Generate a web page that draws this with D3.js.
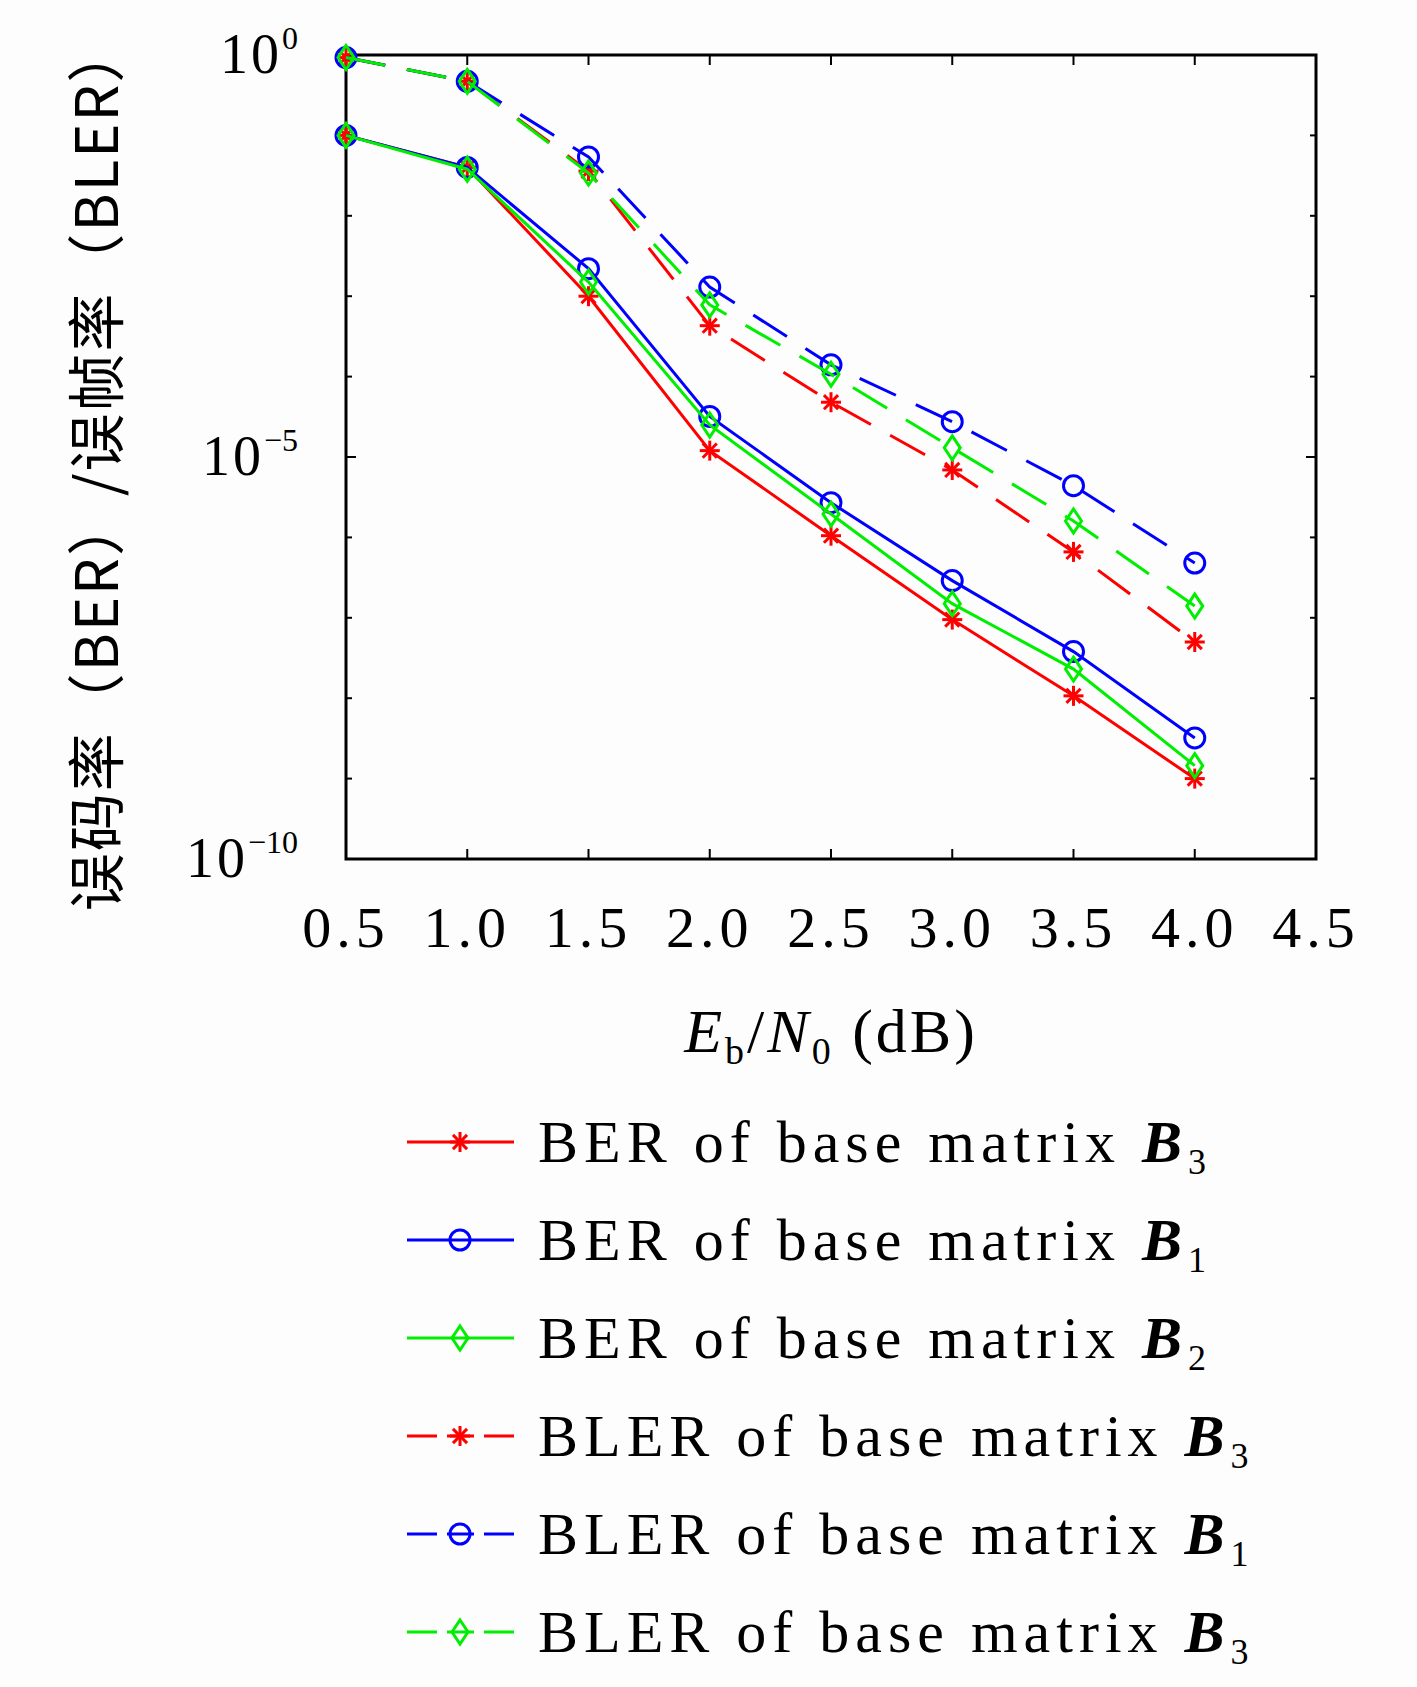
<!DOCTYPE html><html><head><meta charset="utf-8">
<script src="https://cdn.jsdelivr.net/npm/d3@7"></script>
<style>body{margin:0;background:#fdfdfd}</style></head><body>
<script>
const xs=[0.5,1.0,1.5,2.0,2.5,3.0,3.5,4.0];
const berB3=[1e-1,4e-2,1e-3,1.2e-5,1.05e-6,9.5e-8,1.07e-8,1e-9];
const berB1=[1e-1,4e-2,2.2e-3,3.2e-5,2.7e-6,2.9e-7,3.8e-8,3.2e-9];
const berB2=[1e-1,3.8e-2,1.5e-3,2.5e-5,1.95e-6,1.5e-7,2.3e-8,1.45e-9];
const blerB3=[0.93,0.47,3.6e-2,4.3e-4,4.8e-5,6.9e-6,6.6e-7,5e-8];
const blerB1=[0.93,0.47,5.4e-2,1.3e-3,1.4e-4,2.75e-5,4.4e-6,4.8e-7];
const blerB2=[0.93,0.47,3.4e-2,7.8e-4,1.07e-4,1.3e-5,1.6e-6,1.4e-7];
const xTicks=["0.5","1.0","1.5","2.0","2.5","3.0","3.5","4.0","4.5"];
const series=[
 {name:"BER of base matrix ",sub:"3",v:berB3,c:"#ff0000",m:"star",d:false},
 {name:"BER of base matrix ",sub:"1",v:berB1,c:"#0000ff",m:"circle",d:false},
 {name:"BER of base matrix ",sub:"2",v:berB2,c:"#00ee00",m:"diamond",d:false},
 {name:"BLER of base matrix ",sub:"3",v:blerB3,c:"#ff0000",m:"star",d:true},
 {name:"BLER of base matrix ",sub:"1",v:blerB1,c:"#0000ff",m:"circle",d:true},
 {name:"BLER of base matrix ",sub:"3",v:blerB2,c:"#00ee00",m:"diamond",d:true}];
const W=1417,H=1687,L=346,R=1316,T=55,B=859;
const svg=d3.select("body").append("svg").attr("width",W).attr("height",H);
const serif="'Liberation Serif','DejaVu Serif',serif";
const x=d3.scaleLinear().domain([0.5,4.5]).range([L,R]);
const y=d3.scaleLog().domain([1e-10,1]).range([B,T]);
const g=svg.append("g");
const decs=d3.range(-10,1);
decs.forEach(e=>{const yy=y(Math.pow(10,e));const len=e%5==0?10:6;
 g.append("line").attr("x1",L).attr("x2",L+len).attr("y1",yy).attr("y2",yy).attr("stroke","#000").attr("stroke-width",2);
 g.append("line").attr("x1",R).attr("x2",R-len).attr("y1",yy).attr("y2",yy).attr("stroke","#000").attr("stroke-width",2);});
xTicks.forEach(t=>{const xx=x(+t);
 g.append("line").attr("x1",xx).attr("x2",xx).attr("y1",B).attr("y2",B-10).attr("stroke","#000").attr("stroke-width",2);
 g.append("line").attr("x1",xx).attr("x2",xx).attr("y1",T).attr("y2",T+10).attr("stroke","#000").attr("stroke-width",2);
 g.append("text").attr("x",xx).attr("y",B+88).attr("text-anchor","middle").attr("font-family",serif).attr("font-size",58).attr("letter-spacing",5).text(t);});
[0,-5,-10].forEach(e=>{const t=g.append("text").attr("x",298).attr("y",y(Math.pow(10,e))+18).attr("text-anchor","end").attr("font-family",serif).attr("font-size",56).attr("letter-spacing",3).text("10");
 t.append("tspan").attr("dy",-24).attr("font-size",32).attr("letter-spacing",0).text(e==0?"0":"\u2212"+(-e));});
g.append("rect").attr("x",L).attr("y",T).attr("width",R-L).attr("height",B-T).attr("fill","none").attr("stroke","#000").attr("stroke-width",3);
const xl=g.append("text").attr("x",(L+R)/2).attr("y",1052).attr("text-anchor","middle").attr("font-family",serif).attr("font-size",62).attr("letter-spacing",3);
xl.append("tspan").attr("font-style","italic").text("E");
xl.append("tspan").attr("font-size",38).attr("dy",12).text("b");
xl.append("tspan").attr("dy",-12).text("/");
xl.append("tspan").attr("font-style","italic").text("N");
xl.append("tspan").attr("font-size",38).attr("dy",12).text("0");
xl.append("tspan").attr("dy",-12).text(" (dB)");
g.append("text").attr("transform",`translate(118,${(T+B)/2+10}) rotate(-90)`).attr("text-anchor","middle").attr("font-family","'Noto Sans CJK SC',"+serif).attr("font-size",58).attr("letter-spacing",2).text("误码率（BER）/误帧率（BLER）");
function marker(sel,m,c){
 if(m=="circle")sel.append("circle").attr("r",10).attr("fill","none").attr("stroke",c).attr("stroke-width",3);
 else if(m=="diamond")sel.append("path").attr("d","M0,-12L8,0L0,12L-8,0Z").attr("fill","none").attr("stroke",c).attr("stroke-width",3);
 else{[0,45,90,135].forEach(a=>sel.append("line").attr("x1",-10).attr("x2",10).attr("transform",`rotate(${a})`).attr("stroke",c).attr("stroke-width",3));}
}
const line=d3.line().x((d,i)=>x(xs[i])).y(d=>y(d));
series.forEach(s=>{
 g.append("path").attr("d",line(s.v)).attr("fill","none").attr("stroke",s.c).attr("stroke-width",3).attr("stroke-dasharray",s.d?"40,22":null);
 s.v.forEach((v,i)=>marker(g.append("g").attr("transform",`translate(${x(xs[i])},${y(v)})`),s.m,s.c));
});
series.forEach((s,i)=>{const yy=1142+i*98;
 g.append("line").attr("x1",407).attr("x2",514).attr("y1",yy).attr("y2",yy).attr("stroke",s.c).attr("stroke-width",3).attr("stroke-dasharray",s.d?"30,10,27,10,30":null);
 marker(g.append("g").attr("transform",`translate(460,${yy})`),s.m,s.c);
 const t=g.append("text").attr("x",538).attr("y",yy+20).attr("font-family",serif).attr("font-size",60).attr("letter-spacing",6).text(s.name);
 t.append("tspan").attr("font-weight","bold").attr("font-style","italic").text("B");
 t.append("tspan").attr("font-size",36).attr("dy",12).attr("letter-spacing",0).text(s.sub);
});
</script></body></html>
